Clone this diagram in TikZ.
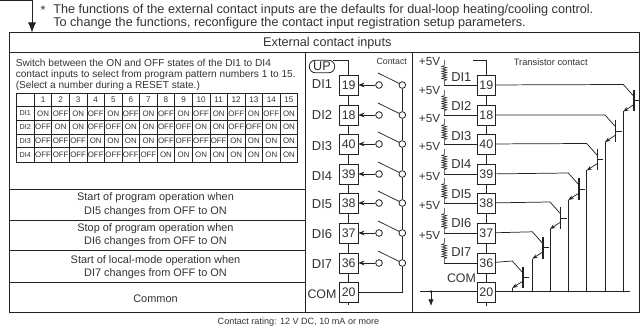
\documentclass[tikz,border=0pt]{standalone}
\usepackage{fontspec}
\setmainfont{Liberation Sans}
\usetikzlibrary{arrows.meta}
\definecolor{ink}{HTML}{222222}
\definecolor{txtc}{HTML}{333333}
\tikzset{
  x=0.75pt,y=-0.75pt,
  wire/.style={draw=ink,line width=0.55pt},
  frame/.style={draw=ink,line width=0.7pt},
  lab/.style={inner sep=0,text=txtc},
  termbox/.style={draw=ink,line width=0.6pt,fill=white,minimum width=14pt,minimum height=15pt,inner sep=0,text=txtc,font=\fontsize{9.3}{9.3}\selectfont},
  term/.style={circle,draw=ink,line width=0.6pt,fill=white,minimum size=5pt,inner sep=0},
  arr/.style={wire,-{Stealth[length=4.5pt,width=3.5pt]}},
  res/.pic={\draw[wire,line width=0.45pt] (0,0) -- (0,5.5) -- (-2.4,6.5) -- (2.4,7.7) -- (-2.4,8.9) -- (2.4,10.1) -- (-2.4,11.3) -- (2.4,12.5) -- (-2.4,13.7) -- (2.4,14.9) -- (-2.4,16.1) -- (2.4,17.3) -- (-2.4,18.5) -- (2.4,19.7) -- (0,20.7) -- (0,25);}
}
\begin{document}
\begin{tikzpicture}
\useasboundingbox (0,0) rectangle (641,327);
% top note
\coordinate (a0) at (0,0.7);
\coordinate (a1) at (32,0.7);
\coordinate (a2) at (32,32.5);
\draw[wire,-{Latex[length=7.5pt,width=6pt]}] (a0) -- (a1) -- (a2);
\node[lab,font=\fontsize{9.5}{9.5}\selectfont] (star) at (43,10) {*};
\node[lab,anchor=west,font=\fontsize{9.5}{9.5}\selectfont] (n1) at (53,10) {The functions of the external contact inputs are the defaults for dual-loop heating/cooling control.};
\node[lab,anchor=west,font=\fontsize{9.5}{9.5}\selectfont] (n2) at (53,23.5) {To change the functions, reconfigure the contact input registration setup parameters.};
% frame
\draw[frame] (9,32.7) rectangle (639,312.7);
\draw[frame] (9,52.7) -- (639,52.7);
\draw[frame] (305.7,52.7) -- (305.7,312.7);
\draw[frame] (412,52.7) -- (412,312.7);
\foreach \y in {189,220,250.7,282} \draw[frame] (9,\y) -- (305.7,\y);
\node[lab,font=\fontsize{9.5}{9.5}\selectfont] (hdr) at (327.3,43) {External contact inputs};
% description
\foreach \i/\y/\t in {1/62.5/{Switch between the ON and OFF states of the DI1 to DI4},2/74.5/{contact inputs to select from program pattern numbers 1 to 15.},3/85.5/{(Select a number during a RESET state.)}}
  \node[lab,anchor=west,font=\fontsize{7.6}{7.6}\selectfont] (d\i) at (15.5,\y) {\t};
% pattern table
\foreach \y in {93.3,106.7,120,134,147.7,162.3} \draw[wire] (16.3,\y) -- (297.7,\y);
\draw[wire] (16.3,93.3) -- (16.3,162.3);
\foreach \c in {0,...,15} \draw[wire] ({34.3+17.56*\c},93.3) -- ({34.3+17.56*\c},162.3);
\foreach \c in {1,...,15} \node[lab,font=\fontsize{6.1}{6.1}\selectfont] (h\c) at ({25.5+17.56*\c},100) {\c};
\foreach \r/\y/\vals in {1/113.3/{ON,OFF,ON,OFF,ON,OFF,ON,OFF,ON,OFF,ON,OFF,ON,OFF,ON},
  2/127/{OFF,ON,ON,OFF,OFF,ON,ON,OFF,OFF,ON,ON,OFF,OFF,ON,ON},
  3/140.8/{OFF,OFF,OFF,ON,ON,ON,ON,OFF,OFF,OFF,OFF,ON,ON,ON,ON},
  4/155/{OFF,OFF,OFF,OFF,OFF,OFF,OFF,ON,ON,ON,ON,ON,ON,ON,ON}}{
  \node[lab,font=\fontsize{5.4}{5.4}\selectfont] (r\r) at (25.3,\y) {DI\r};
  \foreach \v [count=\c] in \vals
    \node[lab,font=\fontsize{5.9}{5.9}\selectfont] (c\r-\c) at ({25.5+17.56*\c},\y) {\v};
}
% function rows
\foreach \i/\y/\t in {a/198/{Start of program operation when},b/211.7/{DI5 changes from OFF to ON},c/229/{Stop of program operation when},d/242/{DI6 changes from OFF to ON},e/260.7/{Start of local-mode operation when},f/273.7/{DI7 changes from OFF to ON},g/298.5/{Common}}
  \node[lab,font=\fontsize{8.2}{8.2}\selectfont] (f\i) at (155.5,\y) {\t};
% terminals
\foreach \n/\y in {19/85,18/115,40/144,39/174,38/203,37/233,36/263,20/292}{
  \node[termbox] (L\n) at (348.7,\y) {\n};
  \node[termbox] (R\n) at (486.3,\y) {\n};
}
% left supply chain
\node[draw=ink,line width=0.6pt,rounded corners=4.5pt,minimum width=19pt,minimum height=9.4pt,inner sep=0,text=txtc,font=\fontsize{9.5}{9.5}\selectfont] (UP) at (322,66.5) {UP};
\coordinate (upc) at (348.7,60.7);
\coordinate (upo) at (333,60.7);
\coordinate (lend) at (348.7,305);
\draw[wire] (upo) -- (upc) -- (L19);
\foreach \a/\b in {19/18,18/40,40/39,39/38,38/37,37/36,36/20} \draw[wire] (L\a) -- (L\b);
\draw[wire] (L20) -- (lend);
\foreach \n in {19,18,40,39,38,37,36,20} \node[termbox] at (L\n) {\n};
% left labels
\foreach \t/\y in {DI1/84,DI2/115,DI3/145.7,DI4/175.7,DI5/204,DI6/234,DI7/264}
  \node[lab,font=\fontsize{9.7}{9.7}\selectfont] (l\t) at (322,\y) {\t};
\node[lab,font=\fontsize{9.3}{9.3}\selectfont] (lCOM) at (322,294) {COM};
\node[lab,font=\fontsize{6.6}{6.6}\selectfont] (ct) at (391.7,61.7) {Contact};
% contacts
\foreach \n in {19,18,40,39,38,37,36}{
  \path (L\n.center) ++(30.3,0) node[term] (A\n) {} ++(23.3,0) node[term] (B\n) {};
  \draw[arr] (A\n) -- (L\n);
  \path (A\n.center) ++(-1,-12) coordinate (S\n);
  \draw[wire] (S\n) -- (B\n);
}
\foreach \a/\b in {19/18,18/40,40/39,39/38,38/37,37/36} \draw[wire] (B\a) -- (B\b);
\coordinate (B20) at (B36 |- L20);
\draw[wire] (B36) -- (B20) -- (L20);
% +5V column
\foreach \i/\y in {1/62,2/91,3/119,4/147,5/177,6/205.7,7/235.7}
  \node[lab,font=\fontsize{8.8}{8.8}\selectfont] (v\i) at (429.5,\y) {+5V};
\foreach \n/\lb/\y in {19/DI1/77,18/DI2/106,40/DI3/136,39/DI4/164,38/DI5/194,37/DI6/223,36/DI7/252}{
  \path (L\n.center) ++(95.6,-25) coordinate (P\n) ++(0,25) coordinate (Q\n);
  \pic at (P\n) {res};
  \draw[wire] (Q\n) -- (R\n);
  \node[lab,anchor=west,font=\fontsize{9.7}{9.7}\selectfont] (lb\n) at (451,\y) {\lb};
}
\node[lab,font=\fontsize{9.3}{9.3}\selectfont] (rcom) at (461.5,278) {COM};
% right chain
\coordinate (rtop0) at (473,60);
\coordinate (rtop) at (486.3,60);
\coordinate (rend) at (486.3,306);
\draw[wire] (rtop0) -- (rtop) -- (R19);
\foreach \a/\b in {19/18,18/40,40/39,39/38,38/37,37/36,36/20} \draw[wire] (R\a) -- (R\b);
\draw[wire] (R20) -- (rend);
% common bus
\coordinate (bus0) at (420,291.5);
\coordinate (bus1) at (630,291.5);
\coordinate (gnd) at (431,291.5);
\coordinate (gnd1) at (431,306);
\draw[wire] (bus0) -- (bus1);
\draw[wire,-{Latex[length=5pt,width=4pt]}] (gnd) -- (gnd1);
\fill[ink] (gnd) circle (1.3);
\foreach \n in {19,18,40,39,38,37,36,20} \node[termbox] at (R\n) {\n};
\node[lab,font=\fontsize{7}{7}\selectfont] (tc) at (550.7,62) {Transistor contact};
% transistors
\foreach \n/\c/\t in {19/623.3/84.5,18/605/115,40/586.7/143.5,39/568.3/173,38/550/202,37/532.3/231.8,36/512.3/261}{
  \coordinate (w\n) at (\c,\t);
  \coordinate (bs\n) at (\c+10.7,\t+12);
  \coordinate (bt\n) at (\c+10.7,\t+5.5);
  \coordinate (bb\n) at (\c+10.7,\t+27);
  \coordinate (st\n) at (\c+10.7,\t+16);
  \coordinate (sr\n) at (\c+16.5,\t+16);
  \coordinate (em\n) at (\c+10.7,\t+20);
  \coordinate (ec\n) at (\c,\t+27);
  \coordinate (eb\n) at (\c,291.5);
  \draw[wire] (R\n) -- (w\n) -- (bs\n);
  \draw[draw=ink,line width=1pt] (bt\n) -- (bb\n);
  \draw[wire] (st\n) -- (sr\n);
  \draw[wire,-{Stealth[length=4pt,width=3pt]}] (em\n) -- (ec\n);
  \draw[wire] (ec\n) -- (eb\n);
  \fill[ink] (eb\n) circle (0.9);
}
\node[lab,font=\fontsize{6.8}{6.8}\selectfont] (foot) at (298.5,322) {Contact rating: 12 V DC, 10 mA or more};
\end{tikzpicture}
\end{document}
